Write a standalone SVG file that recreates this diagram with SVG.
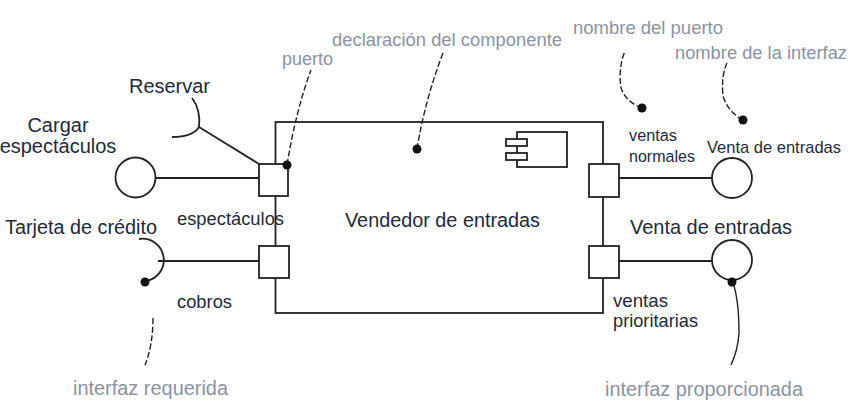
<svg xmlns="http://www.w3.org/2000/svg" width="868" height="419" viewBox="0 0 868 419">
<style>
.ln{fill:none;stroke:#222;stroke-width:1.8}
.bx{fill:#fff;stroke:#222;stroke-width:1.8}
.ld{fill:none;stroke:#222;stroke-width:1.4;stroke-dasharray:6 2.5}
.ls{fill:none;stroke:#222;stroke-width:1.4}
.dot{fill:#111}
.t{font-family:"Liberation Sans",Arial,sans-serif;fill:#222a3a}
.g{font-family:"Liberation Sans",Arial,sans-serif;fill:#8a93a3}
</style>
<rect width="868" height="419" fill="#fff"/>
<g id="connectors">
<line class="ln" x1="155.5" y1="178" x2="259" y2="178"/>
<line class="ln" x1="158" y1="261" x2="259" y2="261"/>
<line class="ln" x1="199" y1="127" x2="259" y2="164"/>
<line class="ln" x1="619" y1="178" x2="712" y2="178"/>
<line class="ln" x1="619" y1="261" x2="712" y2="261"/>
</g>
<g id="componente">
<rect class="ln" x="275.5" y="122" width="327.5" height="191"/>
<rect class="ln" x="517" y="132" width="50" height="35"/>
<rect class="bx" x="506" y="139" width="21" height="7"/>
<rect class="bx" x="506" y="153" width="21" height="7"/>
<text class="t" x="345" y="227" font-size="19.7" textLength="195" lengthAdjust="spacingAndGlyphs">Vendedor de entradas</text>
</g>
<g id="puerto-espectaculos">
<rect class="bx" x="259" y="164" width="29" height="32"/>
<text class="t" x="177" y="225" font-size="18.3" textLength="107" lengthAdjust="spacingAndGlyphs">espectáculos</text>
</g>
<g id="puerto-cobros">
<rect class="bx" x="259" y="246" width="30" height="32"/>
<text class="t" x="177" y="308" font-size="18.3" textLength="55" lengthAdjust="spacingAndGlyphs">cobros</text>
</g>
<g id="puerto-ventas-normales">
<rect class="bx" x="589" y="164" width="30" height="33"/>
<text class="t" x="629" y="141" font-size="16.3" textLength="48" lengthAdjust="spacingAndGlyphs">ventas</text>
<text class="t" x="629" y="162" font-size="16.3" textLength="66" lengthAdjust="spacingAndGlyphs">normales</text>
</g>
<g id="puerto-ventas-prioritarias">
<rect class="bx" x="589" y="246" width="30" height="32"/>
<text class="t" x="613" y="307" font-size="18.2" textLength="55" lengthAdjust="spacingAndGlyphs">ventas</text>
<text class="t" x="613" y="327" font-size="18.2" textLength="85" lengthAdjust="spacingAndGlyphs">prioritarias</text>
</g>
<g id="interfaz-cargar">
<circle class="ln" cx="135.5" cy="177.5" r="20"/>
<text class="t" x="58" y="132" font-size="20" text-anchor="middle">Cargar</text>
<text class="t" x="58" y="153" font-size="20" text-anchor="middle">espectáculos</text>
</g>
<g id="interfaz-reservar">
<path class="ln" d="M192,98 Q201,110 199,127 Q193,137 172,137"/>
<text class="t" x="129" y="93" font-size="20" textLength="81" lengthAdjust="spacingAndGlyphs">Reservar</text>
</g>
<g id="interfaz-tarjeta">
<path class="ln" d="M139,239 A21,21 0 0 1 146,281"/>
<text class="t" x="5" y="234" font-size="19.5" textLength="152" lengthAdjust="spacingAndGlyphs">Tarjeta de crédito</text>
</g>
<g id="interfaz-venta-normal">
<circle class="ln" cx="732" cy="178" r="20"/>
<text class="t" x="707" y="153" font-size="16.4" textLength="134" lengthAdjust="spacingAndGlyphs">Venta de entradas</text>
</g>
<g id="interfaz-venta-prioritaria">
<circle class="ln" cx="732" cy="260" r="20"/>
<text class="t" x="630" y="234" font-size="19.8" textLength="162" lengthAdjust="spacingAndGlyphs">Venta de entradas</text>
</g>
<g id="nota-puerto">
<path class="ld" d="M287,165 Q296,110 311,70"/>
<circle class="dot" cx="287" cy="165" r="4.5"/>
<text class="g" x="282" y="65" font-size="18" textLength="51" lengthAdjust="spacingAndGlyphs">puerto</text>
</g>
<g id="nota-declaracion">
<path class="ld" d="M417,149 Q425,100 443,53"/>
<circle class="dot" cx="417" cy="149" r="4.5"/>
<text class="g" x="332" y="46" font-size="18.4" textLength="230" lengthAdjust="spacingAndGlyphs">declaración del componente</text>
</g>
<g id="nota-nombre-puerto">
<path class="ld" d="M642,108 Q626,102 621,88 Q618,68 625,51"/>
<circle class="dot" cx="642" cy="108" r="4.5"/>
<text class="g" x="573" y="34" font-size="18.5" textLength="150" lengthAdjust="spacingAndGlyphs">nombre del puerto</text>
</g>
<g id="nota-nombre-interfaz">
<path class="ld" d="M743,120 Q728,112 723,96 Q721,76 727,63"/>
<circle class="dot" cx="743" cy="120" r="4.5"/>
<text class="g" x="675" y="59" font-size="18.3" textLength="172" lengthAdjust="spacingAndGlyphs">nombre de la interfaz</text>
</g>
<g id="nota-requerida">
<circle class="dot" cx="145" cy="282" r="4.5"/>
<path class="ld" d="M153,318 Q153,345 145,365"/>
<text class="g" x="73" y="395" font-size="19.9" textLength="155" lengthAdjust="spacingAndGlyphs">interfaz requerida</text>
</g>
<g id="nota-proporcionada">
<circle class="dot" cx="732" cy="282" r="4.5"/>
<path class="ls" d="M733,283 Q739,300 739,333 Q738,350 731,365"/>
<text class="g" x="605" y="396" font-size="19.9" textLength="198" lengthAdjust="spacingAndGlyphs">interfaz proporcionada</text>
</g>
</svg>
